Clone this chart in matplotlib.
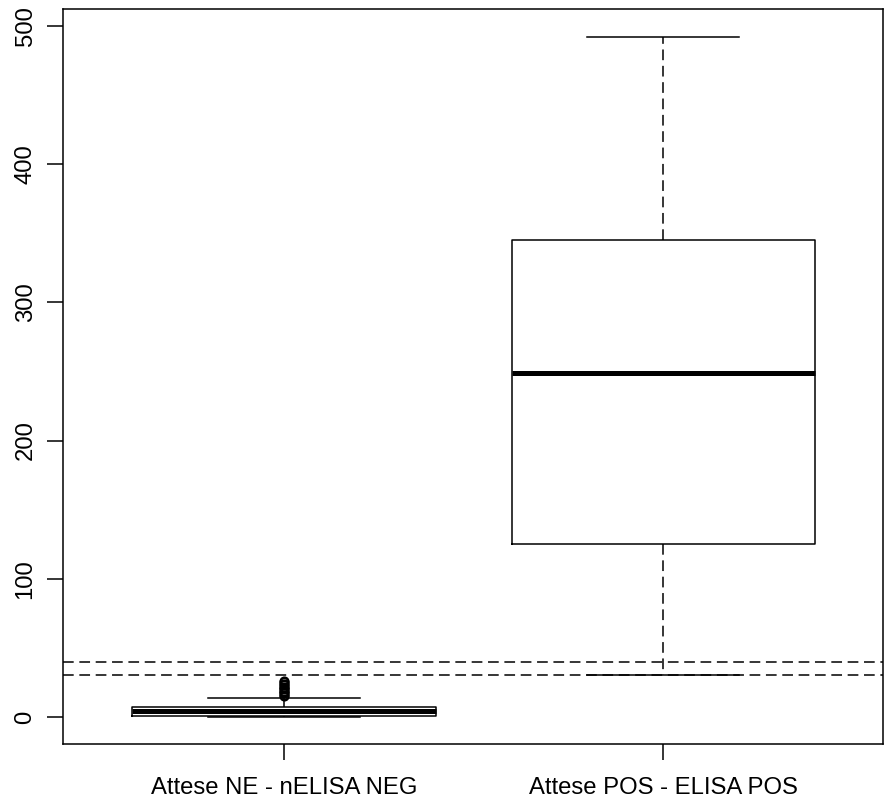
import matplotlib
matplotlib.use("Agg")
import matplotlib.pyplot as plt

plt.rcParams['font.family'] = ['Liberation Sans', 'DejaVu Sans']

# Groups and their five-number summaries
groups = ["Attese NE - nELISA NEG", "Attese POS - ELISA POS"]
whisker_low = [0, 30]
q1 = [1, 125]
median = [4, 249]
q3 = [7.5, 345]
whisker_high = [14, 492]
outliers = [[15, 16, 17, 18, 19, 20, 21, 22, 23, 24, 25, 26], []]

# Reference thresholds
thresholds = [30, 40]
y_ticks = [0, 100, 200, 300, 400, 500]

stats = []
for i, name in enumerate(groups):
    stats.append(dict(label=name, whislo=whisker_low[i], q1=q1[i], med=median[i],
                      q3=q3[i], whishi=whisker_high[i], fliers=outliers[i]))

fig = plt.figure(figsize=(8.85, 8.09), dpi=100)
ax = fig.add_axes([63 / 885, 1 - 744 / 809, (883 - 63) / 885, (744 - 9) / 809])

lw = 1.1
dash = (0, (7, 3.7))
ax.bxp(stats, positions=[1, 2], widths=0.8, showfliers=True, patch_artist=False,
       boxprops=dict(color="black", linewidth=lw),
       whiskerprops=dict(color="black", linewidth=lw, linestyle=dash),
       capprops=dict(color="black", linewidth=lw),
       medianprops=dict(color="black", linewidth=3.6, solid_capstyle="butt"),
       flierprops=dict(marker="o", markerfacecolor="none", markeredgecolor="black",
                       markersize=6, markeredgewidth=1.3),
       capwidths=0.4)

for t in thresholds:
    ax.axhline(t, color="black", linewidth=lw, linestyle=dash)

ax.set_xlim(0.418, 2.579)
ax.set_ylim(-19.6, 512.3)
ax.set_yticks(y_ticks)
ax.set_yticklabels([str(v) for v in y_ticks], rotation=90, va="center")
ax.set_xticks([1, 2])
ax.set_xticklabels(groups)

for s in ax.spines.values():
    s.set_linewidth(1.1)
    s.set_color("black")

ax.tick_params(axis="both", length=11.5, width=1.1, color="black",
               labelsize=17.2, labelcolor="black")
ax.tick_params(axis="x", pad=12.5)
ax.tick_params(axis="y", pad=7.5)

fig.savefig("out.png", dpi=100)
